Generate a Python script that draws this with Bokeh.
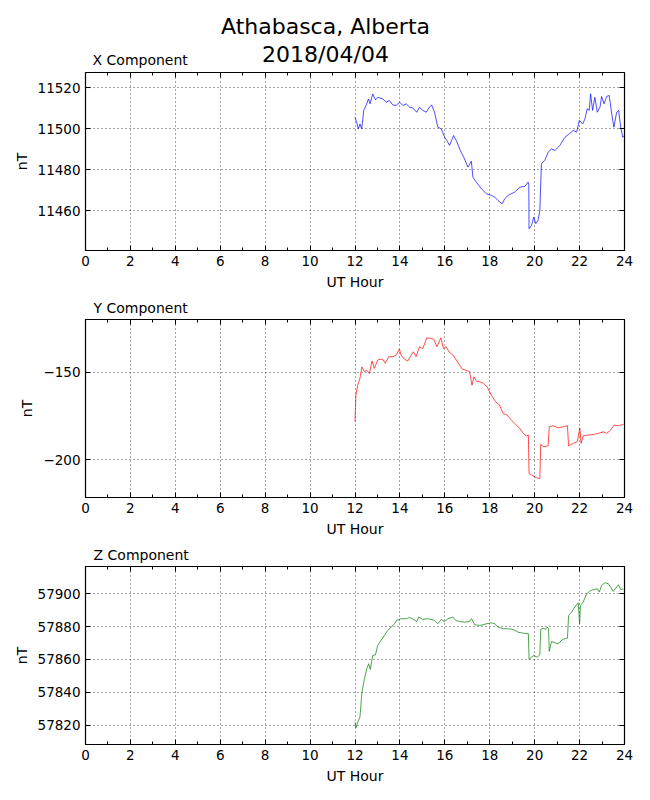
from bokeh.plotting import figure
from bokeh.layouts import column
from bokeh.models import LinearAxis, FixedTicker, Range1d, Grid
from bokeh.core.properties import value
from bokeh.embed import file_html
from bokeh.resources import INLINE

FONT = "DejaVu Sans"

# ---------------- data (UT hour, nT) ----------------
x_hours = [12.0, 12.07, 12.15, 12.22, 12.30, 12.39, 12.49, 12.60, 12.67, 12.79,
           12.91, 13.01, 13.24, 13.38, 13.53, 13.68, 13.83, 13.99, 14.13, 14.28,
           14.43, 14.57, 14.75, 14.87, 15.02, 15.17, 15.29, 15.41, 15.54, 15.69,
           15.84, 15.99, 16.09, 16.21, 16.39, 16.51, 16.69, 16.84, 17.03, 17.18,
           17.25, 17.40, 17.63, 17.85, 18.07, 18.22, 18.37, 18.55, 18.67, 18.82,
           18.96, 19.11, 19.34, 19.56, 19.71, 19.74, 19.75, 19.86, 19.96, 20.05,
           20.15, 20.23, 20.30, 20.45, 20.60, 20.75, 20.90, 21.12, 21.35, 21.54,
           21.72, 21.87, 21.99, 22.14, 22.24, 22.34, 22.43, 22.49, 22.58, 22.68,
           22.79, 22.91, 22.98, 23.09, 23.21, 23.32, 23.43, 23.53, 23.65, 23.74,
           23.83, 23.92, 23.98]
x_values = [11505.7, 11503.3, 11500.0, 11502.4, 11500.0, 11509.0, 11511.4, 11514.6, 11512.2, 11517.0,
            11514.1, 11515.4, 11514.6, 11513.0, 11513.8, 11511.7, 11511.4, 11513.0, 11511.4, 11512.2,
            11510.6, 11510.2, 11508.1, 11510.6, 11509.0, 11508.1, 11510.2, 11511.7, 11508.1, 11500.8,
            11500.0, 11495.9, 11494.3, 11491.9, 11496.7, 11494.3, 11489.4, 11486.2, 11481.3, 11484.2,
            11476.4, 11474.0, 11470.7, 11468.3, 11467.5, 11466.7, 11465.0, 11463.4, 11465.9, 11467.5,
            11468.3, 11469.1, 11471.5, 11471.9, 11474.0, 11472.4, 11451.2, 11452.8, 11456.9, 11453.7,
            11455.3, 11460.2, 11482.9, 11484.6, 11488.6, 11490.2, 11489.4, 11491.9, 11495.9, 11497.6,
            11499.2, 11498.4, 11504.1, 11502.4, 11504.9, 11509.8, 11509.0, 11517.1, 11509.0, 11515.4,
            11508.1, 11510.6, 11515.8, 11512.2, 11515.8, 11516.3, 11507.3, 11500.8, 11508.1, 11509.0,
            11500.8, 11495.9, 11496.7]

y_hours = [12.0, 12.04, 12.12, 12.22, 12.31, 12.42, 12.52, 12.64, 12.76, 12.86,
           13.01, 13.16, 13.26, 13.35, 13.50, 13.68, 13.83, 13.98, 14.05, 14.20,
           14.35, 14.50, 14.60, 14.72, 14.87, 15.02, 15.20, 15.35, 15.50, 15.65,
           15.82, 15.94, 16.06, 16.18, 16.36, 16.51, 16.66, 16.78, 16.93, 17.10,
           17.21, 17.30, 17.40, 17.55, 17.73, 17.88, 18.07, 18.26, 18.44, 18.59,
           18.77, 18.96, 19.11, 19.34, 19.49, 19.63, 19.72, 19.75, 19.93, 20.08,
           20.23, 20.27, 20.41, 20.60, 20.65, 20.82, 21.05, 21.27, 21.46, 21.51,
           21.72, 21.90, 22.01, 22.07, 22.16, 22.39, 22.61, 22.83, 23.06, 23.21,
           23.38, 23.53, 23.73, 23.95]
y_values = [-178.2, -163.0, -157.3, -153.4, -146.8, -149.6, -148.7, -150.6, -143.5, -147.7,
            -142.9, -142.4, -142.9, -144.8, -141.0, -141.0, -140.1, -136.6, -140.1, -142.4,
            -143.5, -140.1, -138.2, -141.0, -135.3, -136.3, -130.2, -130.5, -130.9, -135.3,
            -130.2, -136.3, -135.3, -138.2, -140.1, -142.9, -145.8, -148.1, -148.7, -149.6,
            -157.3, -152.5, -155.0, -155.3, -156.3, -158.2, -163.0, -166.8, -168.7, -173.5,
            -174.4, -177.3, -179.2, -182.1, -184.9, -186.3, -185.9, -207.8, -209.2, -210.3,
            -210.7, -191.2, -192.6, -192.0, -181.1, -180.5, -181.7, -181.1, -180.5, -192.0,
            -190.6, -189.7, -181.7, -190.6, -186.3, -185.9, -185.5, -184.9, -184.0, -184.9,
            -183.0, -180.2, -180.5, -179.8]

z_hours = [12.0, 12.04, 12.12, 12.22, 12.31, 12.42, 12.52, 12.61, 12.68, 12.79,
           12.91, 13.01, 13.16, 13.31, 13.46, 13.61, 13.76, 13.86, 14.05, 14.28,
           14.43, 14.60, 14.75, 14.84, 15.02, 15.20, 15.39, 15.54, 15.69, 15.84,
           15.99, 16.14, 16.36, 16.48, 16.66, 16.88, 17.10, 17.19, 17.33, 17.55,
           17.70, 17.85, 18.07, 18.22, 18.37, 18.59, 18.82, 19.04, 19.26, 19.49,
           19.72, 19.75, 19.86, 19.96, 20.11, 20.23, 20.27, 20.38, 20.48, 20.56,
           20.62, 20.65, 20.75, 20.90, 21.05, 21.24, 21.46, 21.51, 21.64, 21.79,
           21.94, 22.00, 22.04, 22.16, 22.31, 22.49, 22.64, 22.79, 22.88, 22.98,
           23.13, 23.28, 23.38, 23.50, 23.62, 23.73, 23.83, 23.95]
z_values = [57821.8, 57818.2, 57821.8, 57824.9, 57840.1, 57848.2, 57854.3, 57857.4, 57853.9, 57862.4,
            57862.8, 57868.5, 57871.6, 57874.6, 57877.7, 57879.7, 57881.7, 57883.8, 57884.8, 57884.8,
            57885.6, 57884.4, 57883.1, 57885.8, 57884.4, 57884.8, 57884.4, 57883.8, 57881.7, 57884.4,
            57883.1, 57884.8, 57885.8, 57883.8, 57883.1, 57882.7, 57883.1, 57884.8, 57881.1, 57880.7,
            57881.1, 57881.7, 57882.3, 57881.7, 57879.7, 57878.7, 57878.7, 57878.3, 57876.6, 57876.0,
            57875.6, 57860.0, 57861.4, 57862.4, 57861.4, 57862.8, 57878.3, 57879.1, 57878.3, 57879.7,
            57878.7, 57864.9, 57871.0, 57870.2, 57869.5, 57872.2, 57873.0, 57886.8, 57888.8, 57891.9,
            57894.5, 57881.7, 57892.9, 57894.9, 57900.0, 57902.0, 57902.6, 57903.0, 57901.0, 57905.1,
            57906.7, 57906.1, 57904.1, 57901.4, 57903.5, 57905.5, 57902.6, 57903.0]

hour_ticks = [0, 2, 4, 6, 8, 10, 12, 14, 16, 18, 20, 22, 24]
hour_minor = [1, 3, 5, 7, 9, 11, 13, 15, 17, 19, 21, 23]
x_ticks = [11460, 11480, 11500, 11520]
y_ticks = [-200, -150]
y_tick_labels = {-200: "\u2212200", -150: "\u2212150"}
z_ticks = [57820, 57840, 57860, 57880, 57900]

x_range = (11440.6, 11527.5)
y_range = (-221.6, -119.7)
z_range = (57808.2, 57916.6)

title_lines = ["Athabasca, Alberta", "2018/04/04"]
panel_titles = ["X Component", "Y Component", "Z Component"]
x_label = "UT Hour"
y_label = "nT"

W = 642
FRAME_L = 85
FRAME_R = 18
FRAME_W = W - FRAME_L - FRAME_R
FRAME_H = 178


def style_axis(ax, show_labels):
    ax.axis_line_color = None
    ax.major_tick_in = 5
    ax.major_tick_out = 0
    ax.minor_tick_in = 3
    ax.minor_tick_out = 0
    ax.major_tick_line_color = "black"
    ax.minor_tick_line_color = "black"
    ax.major_tick_line_width = 1
    ax.minor_tick_line_width = 1
    ax.major_label_text_font = FONT
    ax.axis_label_text_font = FONT
    ax.axis_label_text_font_size = "14px"
    ax.axis_label_text_font_style = "normal"
    ax.axis_label_text_color = "black"
    ax.axis_label_standoff = 5
    if show_labels:
        ax.major_label_text_color = "black"
        ax.major_label_text_font_size = "13.5px"
        ax.major_label_standoff = 5
    else:
        ax.major_label_text_color = None
        ax.major_label_text_alpha = 0
        ax.major_label_text_font_size = "0px"
        ax.major_label_standoff = 0


def make_header(height, texts, xs, ys, sizes, aligns):
    # a text-only strip; its frame spans the same columns as the panels
    h = figure(width=W, height=height, output_backend="svg", toolbar_location=None,
               x_range=Range1d(0, FRAME_W), y_range=Range1d(0, height),
               x_axis_type=None, y_axis_type=None,
               min_border_left=FRAME_L, min_border_right=FRAME_R,
               min_border_top=0, min_border_bottom=0)
    h.outline_line_color = None
    h.background_fill_color = "white"
    h.border_fill_color = "white"
    for t, x, y, s, a in zip(texts, xs, ys, sizes, aligns):
        h.text(x=[x], y=[y], text=[t], text_font=value(FONT),
               text_font_size=value(s), text_color="black",
               text_align=a, text_baseline="middle")
    return h


def make_panel(hours, vals, color, yr, yticks, overrides=None):
    top, bottom = 2, 48
    p = figure(width=W, height=top + FRAME_H + bottom,
               output_backend="svg", toolbar_location=None,
               x_range=Range1d(0, 24), y_range=Range1d(*yr),
               x_axis_type=None, y_axis_type=None,
               min_border_left=FRAME_L, min_border_right=FRAME_R,
               min_border_top=top, min_border_bottom=bottom)
    p.background_fill_color = "white"
    p.border_fill_color = "white"
    p.outline_line_color = "black"
    p.outline_line_width = 1.2

    xt = FixedTicker(ticks=hour_ticks, minor_ticks=hour_minor)
    yt = FixedTicker(ticks=yticks, minor_ticks=[])

    bx = LinearAxis(ticker=xt, axis_label=x_label)
    style_axis(bx, True)
    p.add_layout(bx, "below")
    tx = LinearAxis(ticker=xt)
    style_axis(tx, False)
    p.add_layout(tx, "above")

    ly = LinearAxis(ticker=yt, axis_label=y_label)
    style_axis(ly, True)
    if overrides:
        ly.major_label_overrides = overrides
    p.add_layout(ly, "left")
    ry = LinearAxis(ticker=yt)
    style_axis(ry, False)
    p.add_layout(ry, "right")

    for dim, tk in ((0, xt), (1, yt)):
        g = Grid(dimension=dim, ticker=tk, grid_line_color="black",
                 grid_line_dash="1 3", grid_line_width=0.8, grid_line_alpha=0.9)
        p.add_layout(g)

    p.line(hours, vals, line_color=color, line_width=0.7)
    return p


h0 = make_header(70, [title_lines[0], title_lines[1], panel_titles[0]],
                 [240, 240, 7], [43.7, 16, 10.2], ["22px", "22px", "14px"],
                 ["center", "center", "left"])
p1 = make_panel(x_hours, x_values, "#0000ff", x_range, x_ticks)
h1 = make_header(19, [panel_titles[1]], [8], [9.6], ["14px"], ["left"])
p2 = make_panel(y_hours, y_values, "#ff0000", y_range, y_ticks, overrides=y_tick_labels)
h2 = make_header(19, [panel_titles[2]], [8], [9.6], ["14px"], ["left"])
p3 = make_panel(z_hours, z_values, "#008000", z_range, z_ticks)

layout = column(h0, p1, h1, p2, h2, p3, spacing=0)

open("out.html", "w").write(file_html(layout, INLINE))
